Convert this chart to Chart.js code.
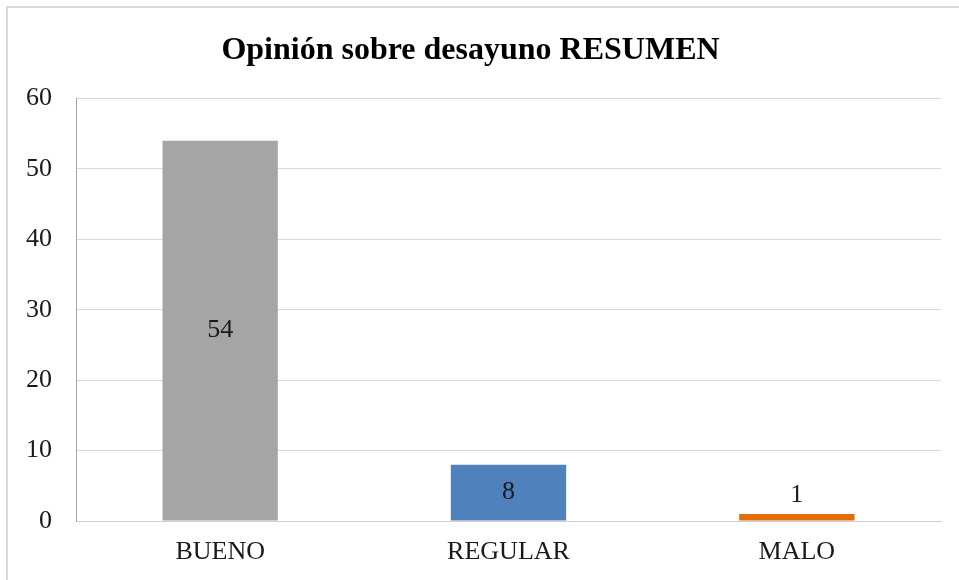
<!DOCTYPE html>
<html>
<head>
<meta charset="utf-8">
<script src="https://cdn.jsdelivr.net/npm/chart.js@4/dist/chart.umd.min.js"></script>
<style>
  html, body { margin: 0; padding: 0; background: #fff; }
  #wrap { position: relative; width: 959px; height: 580px; }
  #frame { position: absolute; left: 6px; top: 6px; right: -10px; bottom: -10px;
           border-left: 2px solid #d9d9d9; border-top: 2px solid #d9d9d9; pointer-events: none; }
  canvas { position: absolute; left: 0; top: 0; }
</style>
</head>
<body>
<div id="wrap">
  <canvas id="c" width="959" height="580"></canvas>
  <div id="frame"></div>
</div>
<script>
const categories = ["BUENO", "REGULAR", "MALO"];
const values = [54, 8, 1];
const barColors = ["#A5A5A5", "#4F81BD", "#E46C0A"];
const yTicks = [0, 10, 20, 30, 40, 50, 60];
const titleText = "Opinión sobre desayuno RESUMEN";

const FONT = "'Liberation Serif', 'Times New Roman', serif";

const labelPlugin = {
  id: 'barLabels',
  afterDatasetsDraw(chart) {
    const ctx = chart.ctx;
    const meta = chart.getDatasetMeta(0);
    ctx.save();
    ctx.font = "26px " + FONT;
    ctx.fillStyle = "#1a1a1a";
    ctx.textAlign = "center";
    ctx.textBaseline = "middle";
    meta.data.forEach((bar, i) => {
      const h = bar.base - bar.y;
      const y = h > 40 ? (bar.y + bar.base) / 2 : bar.y - 19;
      ctx.fillText(String(values[i]), bar.x, y);
    });
    ctx.restore();
  }
};

new Chart(document.getElementById('c'), {
  type: 'bar',
  data: {
    labels: categories,
    datasets: [{
      data: values,
      backgroundColor: barColors,
      borderWidth: 0,
      categoryPercentage: 1,
      barPercentage: 0.4
    }]
  },
  options: {
    responsive: false,
    animation: false,
    layout: { padding: { top: 0, right: 18, bottom: 13, left: 0 } },
    plugins: {
      legend: { display: false },
      tooltip: { enabled: false },
      title: {
        display: true,
        text: titleText,
        color: "#000",
        font: { family: FONT, size: 32, weight: 'bold', lineHeight: 1.2 },
        padding: { top: 32, bottom: 28 }
      }
    },
    scales: {
      x: {
        afterFit(scale) { scale.height = 46; },
        grid: { display: false, drawTicks: false },
        border: { display: true, color: "#cfcfcf", width: 1 },
        ticks: { color: "#1a1a1a", font: { family: FONT, size: 26, lineHeight: 1.2 }, padding: 16, maxRotation: 0 }
      },
      y: {
        min: 0, max: 60,
        afterBuildTicks(scale) { scale.ticks = yTicks.map(v => ({ value: v })); },
        afterFit(scale) { scale.width = 76; },
        grid: { color: "#d9d9d9", drawTicks: false },
        border: { display: true, color: "#a6a6a6", width: 1 },
        ticks: { color: "#1a1a1a", font: { family: FONT, size: 26 }, padding: 24, stepSize: 10 }
      }
    }
  },
  plugins: [labelPlugin]
});
</script>
</body>
</html>
